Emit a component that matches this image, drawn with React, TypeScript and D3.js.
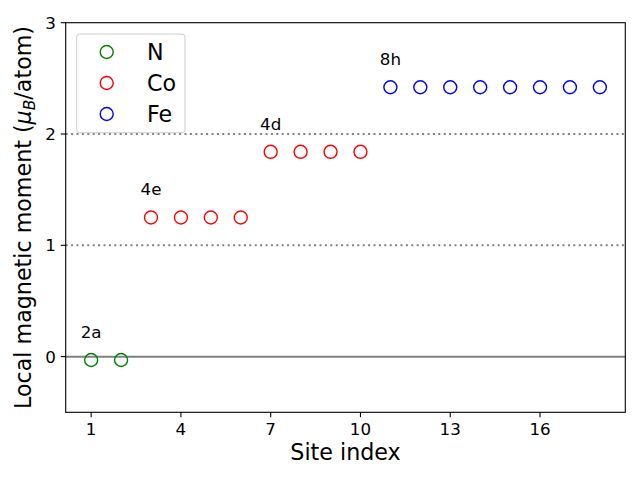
import React from "react";
import * as d3 from "d3";

const sites = [1, 2, 3, 4, 5, 6, 7, 8, 9, 10, 11, 12, 13, 14, 15, 16, 17, 18];
const moments = [-0.03, -0.03, 1.25, 1.25, 1.25, 1.25, 1.84, 1.84, 1.84, 1.84, 2.42, 2.42, 2.42, 2.42, 2.42, 2.42, 2.42, 2.42];
const species = ["N", "N", "Co", "Co", "Co", "Co", "Co", "Co", "Co", "Co", "Fe", "Fe", "Fe", "Fe", "Fe", "Fe", "Fe", "Fe"];
const legendNames = ["N", "Co", "Fe"];
const legendColors = ["green", "red", "blue"];
const wyckoffLabels = ["2a", "4e", "4d", "8h"];
const wyckoffX = [1, 3, 7, 11];
const wyckoffY = [-0.03, 1.25, 1.84, 2.42];
const xTicks = [1, 4, 7, 10, 13, 16];
const yTicks = [0, 1, 2, 3];
const dottedLevels = [1, 2];

const W = 640;
const H = 480;
const L = 65.7, R = 625.3, T = 22.7, B = 412.3;

export default function App() {
  const x = d3.scaleLinear().domain([0.15, 18.85]).range([L, R]);
  const y = d3.scaleLinear().domain([-0.5, 3]).range([B, T]);
  const color = d3.scaleOrdinal<string, string>().domain(legendNames).range(legendColors);
  const font = "DejaVu Sans, sans-serif";
  const tickFs = 16.7;
  const labelFs = 22.2;

  return (
    <svg width={W} height={H} style={{ position: "absolute", left: 0, top: 0 }} fontFamily={font}>
      <rect x={0} y={0} width={W} height={H} fill="white" />
      {/* reference lines */}
      <line x1={L} x2={R} y1={y(0)} y2={y(0)} stroke="gray" strokeWidth={2} />
      {dottedLevels.map((v) => (
        <line key={v} x1={L} x2={R} y1={y(v)} y2={y(v)} stroke="gray" strokeWidth={2} strokeDasharray="2,3.4" />
      ))}
      {/* points */}
      {sites.map((s, i) => (
        <circle key={i} cx={x(s)} cy={y(moments[i])} r={6.5} fill="none" stroke={color(species[i])} strokeWidth={1.4} />
      ))}
      {/* wyckoff labels */}
      {wyckoffLabels.map((lab, i) => (
        <text key={lab} x={x(wyckoffX[i])} y={y(wyckoffY[i] + 0.2)} fontSize={tickFs} textAnchor="middle" fill="black">
          {lab}
        </text>
      ))}
      {/* axes frame */}
      <rect x={L} y={T} width={R - L} height={B - T} fill="none" stroke="black" strokeWidth={1.1} />
      {/* x ticks */}
      {xTicks.map((t) => (
        <g key={t}>
          <line x1={x(t)} x2={x(t)} y1={B} y2={B + 4.9} stroke="black" strokeWidth={1.1} />
          <text x={x(t)} y={435} fontSize={tickFs} textAnchor="middle" fill="black">{t}</text>
        </g>
      ))}
      {/* y ticks */}
      {yTicks.map((t) => (
        <g key={t}>
          <line x1={L - 4.9} x2={L} y1={y(t)} y2={y(t)} stroke="black" strokeWidth={1.1} />
          <text x={L - 9.8} y={y(t)} fontSize={tickFs} textAnchor="end" dominantBaseline="central" fill="black">{t}</text>
        </g>
      ))}
      {/* axis labels */}
      <text x={(L + R) / 2} y={460} fontSize={labelFs} textAnchor="middle" fill="black">Site index</text>
      <text transform={`translate(31, ${(T + B) / 2}) rotate(-90)`} fontSize={labelFs} textAnchor="middle" fill="black">
        Local magnetic moment (<tspan fontStyle="italic">μ</tspan>
        <tspan fontStyle="italic" fontSize={15.5} dy={4}>B</tspan>
        <tspan dy={-4}>/atom)</tspan>
      </text>
      {/* legend */}
      <rect x={76.7} y={34} width={108.3} height={98.7} rx={3} ry={3} fill="white" fillOpacity={0.8} stroke="#cccccc" strokeWidth={1} />
      {legendNames.map((n, i) => (
        <g key={n}>
          <circle cx={106.7} cy={52 + i * 31} r={6.5} fill="none" stroke={legendColors[i]} strokeWidth={1.4} />
          <text x={147} y={52 + i * 31} fontSize={labelFs} dominantBaseline="central" fill="black">{n}</text>
        </g>
      ))}
    </svg>
  );
}
